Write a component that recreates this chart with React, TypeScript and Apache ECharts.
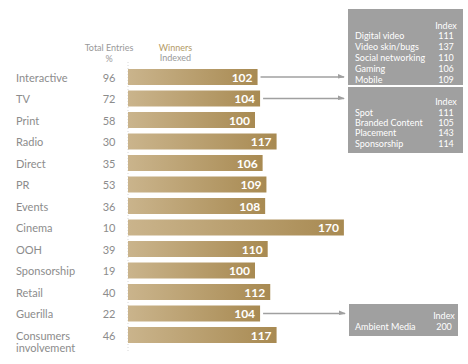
import React, { useEffect, useRef } from 'react';
import * as echarts from 'echarts';

const categories = [
  'Interactive', 'TV', 'Print', 'Radio', 'Direct', 'PR', 'Events', 'Cinema',
  'OOH', 'Sponsorship', 'Retail', 'Guerilla', 'Consumers\ninvolvement',
];
const totalEntries = [96, 72, 58, 30, 35, 53, 36, 10, 39, 19, 40, 22, 46];
const winnersIndexed = [102, 104, 100, 117, 106, 109, 108, 170, 110, 100, 112, 104, 117];

const interactiveItems = ['Digital video', 'Video skin/bugs', 'Social networking', 'Gaming', 'Mobile'];
const interactiveIndex = [111, 137, 110, 106, 109];
const tvItems = ['Spot', 'Branded Content', 'Placement', 'Sponsorship'];
const tvIndex = [111, 105, 143, 114];
const guerillaItems = ['Ambient Media'];
const guerillaIndex = [200];

const FONT = 'Lato, "Noto Sans", sans-serif';
const GRAY = '#8c8c8c';
const BOX = '#a0a0a0';

export default function App() {
  const ref = useRef<HTMLDivElement>(null);

  useEffect(() => {
    if (!ref.current) return;
    const chart = echarts.init(ref.current, null, { renderer: 'svg' });

    chart.setOption({
      animation: false,
      grid: { left: 128, top: 66.25, height: 279.5, width: 254, containLabel: false, outerBoundsMode: 'none' },
      xAxis: {
        type: 'value', min: 0, max: 200,
        axisLine: { show: false }, axisTick: { show: false },
        axisLabel: { show: false }, splitLine: { show: false },
      },
      yAxis: [
        {
          type: 'category', data: categories, inverse: true, position: 'left',
          axisLine: { show: false }, axisTick: { show: false },
          axisLabel: {
            align: 'left', margin: 112, color: GRAY, fontSize: 11,
            fontFamily: FONT, lineHeight: 12, interval: 0,
            showMinLabel: true, showMaxLabel: true, hideOverlap: false,
            formatter: (v: string) => (v.includes('\n') ? '\n' + v : v),
          },
        },
        {
          type: 'category', data: totalEntries.map(String), inverse: true,
          position: 'left', offset: 0,
          axisLine: { show: false }, axisTick: { show: false },
          axisLabel: {
            align: 'center', margin: 19, color: GRAY, fontSize: 11, fontFamily: FONT,
            interval: 0, showMinLabel: true, showMaxLabel: true, hideOverlap: false,
          },
        },
      ],
      series: [
        {
          type: 'bar', yAxisIndex: 0, data: winnersIndexed, barWidth: 16,
          itemStyle: {
            color: new echarts.graphic.LinearGradient(0, 0, 1, 0, [
              { offset: 0, color: '#cab48c' },
              { offset: 1, color: '#a88a52' },
            ]),
          },
          label: {
            show: true, position: 'insideRight', distance: 5, color: '#fff',
            fontWeight: 'bold', fontSize: 12, fontFamily: FONT,
          },
        },
      ],
    });

    const graphic: any[] = [];
    const txt = (text: string, x: number, y: number, fill: string, size: number, align = 'left', weight = 'normal') => ({
      type: 'text', silent: true,
      style: { text, x, y, fill, fontSize: size, fontFamily: FONT, fontWeight: weight, textAlign: align, textVerticalAlign: 'middle' },
    });

    graphic.push(txt('Total Entries', 109, 47, '#999', 9, 'center'));
    graphic.push(txt('%', 109, 58, '#999', 9, 'center'));
    graphic.push(txt('Winners', 175.5, 47, '#b39a66', 9, 'center'));
    graphic.push(txt('Indexed', 175.5, 57.5, '#999', 9, 'center'));
    graphic.push({
      type: 'line', silent: true,
      shape: { x1: 128, y1: 62, x2: 128, y2: 352 },
      style: { stroke: '#d8d8d8', lineWidth: 1, lineDash: [1, 2] },
    });

    const boxes = [
      { row: 0, x: 348, y: 9, w: 115, h: 76, headY: 25, firstY: 35.5, step: 11, valX: 446, items: interactiveItems, vals: interactiveIndex },
      { row: 1, x: 348, y: 87, w: 115, h: 66, headY: 101.5, firstY: 112.2, step: 10.3, valX: 446, items: tvItems, vals: tvIndex },
      { row: 11, x: 349, y: 304, w: 109, h: 32, headY: 315, firstY: 326, step: 11, valX: 444, items: guerillaItems, vals: guerillaIndex },
    ];

    boxes.forEach((b) => {
      const p = chart.convertToPixel({ seriesIndex: 0 }, [winnersIndexed[b.row], b.row]) as number[];
      const y = p[1];
      const tip = b.x - 3;
      graphic.push({
        type: 'line', silent: true,
        shape: { x1: p[0] + 3, y1: y, x2: tip - 1, y2: y },
        style: { stroke: BOX, lineWidth: 1.5 },
      });
      graphic.push({
        type: 'polygon', silent: true,
        shape: { points: [[tip - 7, y - 3], [tip, y], [tip - 7, y + 1.5]] },
        style: { fill: BOX },
      });
      graphic.push({
        type: 'rect', silent: true,
        shape: { x: b.x, y: b.y, width: b.w, height: b.h },
        style: { fill: BOX },
      });
      graphic.push(txt('Index', b.valX, b.headY, '#fff', 9, 'center'));
      b.items.forEach((it, i) => {
        graphic.push(txt(it, 355, b.firstY + i * b.step, '#fff', 9, 'left'));
        graphic.push(txt(String(b.vals[i]), b.valX, b.firstY + i * b.step, '#fff', 9, 'center'));
      });
    });

    chart.setOption({ graphic });

    return () => chart.dispose();
  }, []);

  return (
    <div
      ref={ref}
      style={{ position: 'fixed', left: 0, top: 0, width: 468, height: 364, background: '#fff' }}
    />
  );
}
